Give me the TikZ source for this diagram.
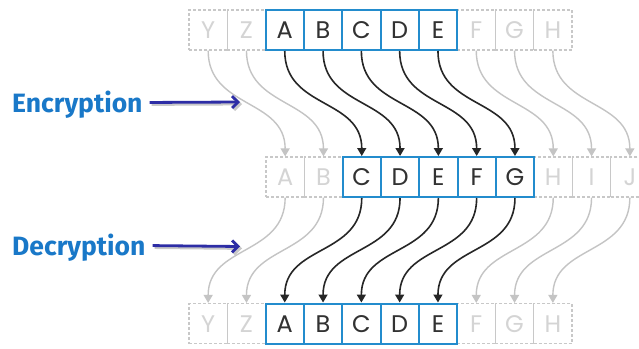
\documentclass[tikz,border=0pt]{standalone}
\usepackage{fontspec}
\setmainfont{Poppins}
\newfontfamily\labelfont{Fira Sans}
\usetikzlibrary{arrows.meta}
\definecolor{cellblue}{RGB}{35,140,205}
\definecolor{lightgr}{RGB}{200,200,200}
\definecolor{arrowgr}{RGB}{196,196,196}
\definecolor{letterdark}{RGB}{50,50,50}
\definecolor{letterlight}{RGB}{212,212,212}
\definecolor{labelblue}{RGB}{25,120,200}
\definecolor{arrowblue}{RGB}{45,45,165}
\begin{document}
\begin{tikzpicture}[x=1pt,y=-1pt,
  cellbase/.style={minimum width=38.3pt,minimum height=40pt,inner sep=0pt,
    font=\fontsize{24}{24}\selectfont,text height=17pt,text depth=0pt},
  ghost/.style={cellbase,draw=lightgr,line width=1.2pt,dash pattern=on 3pt off 2pt,text=letterlight},
  keycell/.style={cellbase,draw=cellblue,line width=2pt,text=letterdark},
  ghostarrow/.style={draw=arrowgr,line width=1.4pt,-{Triangle[width=9pt,length=8pt]}},
  keyarrow/.style={draw=black!85,line width=1.6pt,-{Triangle[width=9pt,length=8pt]}},
  lbl/.style={font=\labelfont\bfseries\fontsize{26.5}{26.5}\selectfont,text=labelblue,inner sep=0pt,
    text height=19pt,text depth=0pt,anchor=base west},
  bluearrow/.style={draw=arrowblue,line width=2.8pt,shorten <=7pt,-{Straight Barb[length=6pt,width=12pt]}},
  bluearrowshadow/.style={draw=lightgr,line width=2.8pt,shorten <=7pt,-{Straight Barb[length=6pt,width=12pt]}}
]
\useasboundingbox (0,0) rectangle (639,348);
\clip (0,0) rectangle (639,348);
\fill[white] (0,0) rectangle (639,348);

% ghost cells
\foreach \l [count=\i from 0] in {Y,Z,A,B,C,D,E,F,G,H}
  \node[ghost] (t\i) at ({189+38.3*(\i+0.5)},30) {\l};
\foreach \l [count=\i from 0] in {A,B,C,D,E,F,G,H,I,J}
  \node[ghost] (m\i) at ({266+38.3*(\i+0.5)},177) {\l};
\foreach \l [count=\i from 0] in {Y,Z,A,B,C,D,E,F,G,H}
  \node[ghost] (b\i) at ({189+38.3*(\i+0.5)},323.5) {\l};

% key cells
\foreach \l [count=\i from 2] in {A,B,C,D,E}
  \node[keycell] (T\i) at (t\i) {\l};
\foreach \l [count=\i from 2] in {C,D,E,F,G}
  \node[keycell] (M\i) at (m\i) {\l};
\foreach \l [count=\i from 2] in {A,B,C,D,E}
  \node[keycell] (B\i) at (b\i) {\l};

% arrows top -> middle
\foreach \i in {0,1,7,8,9}
  \draw[ghostarrow] (t\i.south) .. controls +(0,58) and +(0,-58) .. (m\i.north);
\foreach \i in {2,...,6}
  \draw[keyarrow] (T\i.south) .. controls +(0,58) and +(0,-58) .. (M\i.north);

% arrows middle -> bottom
\foreach \i in {0,1,7,8,9}
  \draw[ghostarrow] (m\i.south) .. controls +(0,58) and +(0,-58) .. (b\i.north);
\foreach \i in {2,...,6}
  \draw[keyarrow] (M\i.south) .. controls +(0,58) and +(0,-58) .. (B\i.north);

% labels
\node[lbl] (enc) at (12,112) {Encryption};
\node[lbl] (dec) at (12,255) {Decryption};
\coordinate (enctip) at (240,102);
\coordinate (dectip) at (240,246.5);
\coordinate (encsh) at (242,104);
\coordinate (decsh) at (242,248.5);
\draw[bluearrowshadow] ([shift={(2,2)}]enc.east) -- (encsh);
\draw[bluearrowshadow] ([shift={(2,2)}]dec.east) -- (decsh);
\draw[bluearrow] (enc.east) -- (enctip);
\draw[bluearrow] (dec.east) -- (dectip);
\end{tikzpicture}
\end{document}
